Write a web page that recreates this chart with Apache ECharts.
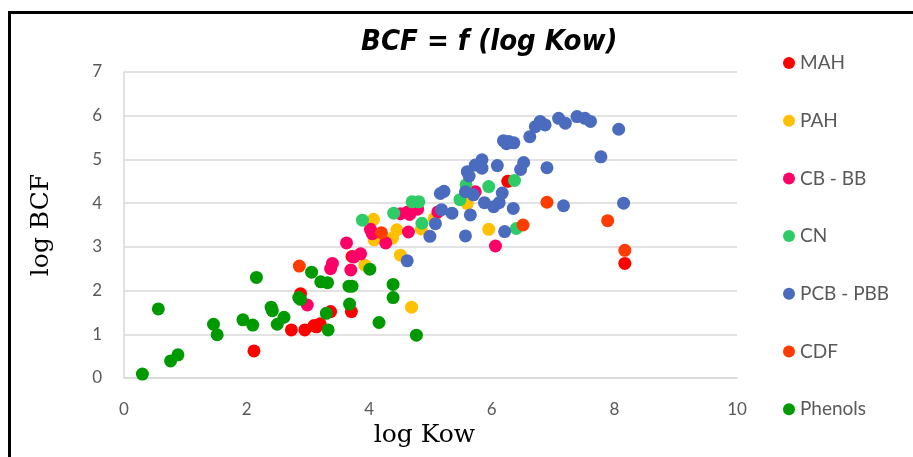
<!DOCTYPE html>
<html>
<head>
<meta charset="utf-8">
<script src="https://cdn.jsdelivr.net/npm/echarts@6/dist/echarts.min.js"></script>
<style>html,body{margin:0;padding:0;background:#fff}#c{width:913px;height:457px}</style>
</head>
<body>
<div id="c"></div>
<script>
const seriesNames = ['MAH', 'PAH', 'CB - BB', 'CN', 'PCB - PBB', 'CDF', 'Phenols'];
const seriesColors = ['#FF0000', '#FFC000', '#FF0066', '#2ECC66', '#4A6BBE', '#FF3C00', '#009A00'];
const xTicks = [0, 2, 4, 6, 8, 10];
const yTicks = [0, 1, 2, 3, 4, 5, 6, 7];

const MAH = [[2.12,0.62],[2.73,1.10],[2.95,1.10],[3.10,1.20],[3.20,1.24],[3.14,1.17],[3.37,1.52],[3.71,1.52],[2.88,1.93],[3.72,2.78],[6.26,4.50],[8.17,2.62]];
const PAH = [[4.07,3.63],[4.45,3.39],[4.38,3.20],[4.08,3.16],[4.51,2.81],[3.93,2.58],[4.69,1.62],[4.85,3.41],[5.06,3.65],[5.60,3.99],[5.95,3.40]];
const CBBB = [[2.99,1.67],[3.40,2.62],[3.37,2.50],[3.70,2.47],[3.63,3.09],[3.86,2.84],[3.75,2.77],[4.02,3.40],[4.05,3.30],[4.27,3.09],[4.64,3.34],[4.51,3.76],[4.63,3.80],[4.66,3.74],[4.79,3.86],[5.12,3.80],[5.73,4.26],[6.06,3.02]];
const CN = [[3.89,3.61],[4.40,3.77],[4.70,4.03],[4.81,4.03],[4.86,3.54],[5.48,4.08],[5.58,4.42],[5.95,4.38],[6.37,4.52],[6.40,3.42]];
const PCBPBB = [[4.62,2.68],[4.99,3.24],[5.08,3.53],[5.18,3.85],[5.16,4.22],[5.22,4.27],[5.35,3.77],[5.57,3.25],[5.65,3.73],[5.57,4.26],[5.70,4.19],[5.60,4.72],[5.63,4.62],[5.73,4.87],[5.84,4.99],[5.84,4.80],[6.09,4.86],[5.88,4.01],[6.03,3.92],[6.12,4.01],[6.17,4.23],[6.35,3.88],[6.21,3.35],[6.47,4.77],[6.52,4.93],[6.90,4.81],[7.17,3.94],[7.78,5.06],[8.15,4.00],[8.07,5.69],[6.19,5.43],[6.28,5.41],[6.36,5.38],[6.24,5.36],[6.62,5.52],[6.71,5.75],[6.79,5.87],[6.87,5.79],[7.09,5.94],[7.20,5.83],[7.39,5.98],[7.52,5.94],[7.61,5.87]];
const CDF = [[2.86,2.56],[4.20,3.32],[6.90,4.02],[6.51,3.50],[7.89,3.60],[8.17,2.92]];
const Phenols = [[0.30,0.09],[0.56,1.58],[0.76,0.39],[0.88,0.53],[1.46,1.23],[1.52,0.99],[1.94,1.33],[2.10,1.21],[2.16,2.30],[2.40,1.62],[2.42,1.54],[2.50,1.23],[2.61,1.39],[2.85,1.84],[2.88,1.80],[3.06,2.42],[3.21,2.20],[3.32,2.18],[3.30,1.48],[3.33,1.10],[3.67,2.10],[3.72,2.10],[3.68,1.69],[4.01,2.49],[4.39,2.14],[4.39,1.84],[4.16,1.27],[4.77,0.98]];

const allData = [MAH, PAH, CBBB, CN, PCBPBB, CDF, Phenols];

const chart = echarts.init(document.getElementById('c'), null, {renderer: 'canvas'});
const labelFont = "Lato, 'Open Sans', sans-serif";
const serifFont = "'DejaVu Serif', 'Liberation Serif', serif";
chart.setOption({
  animation: false,
  backgroundColor: '#fff',
  title: {
    text: 'BCF = f (log Kow)',
    left: 356, top: 23,
    textStyle: {fontFamily: "'Liberation Sans Narrow', 'DejaVu Sans Condensed', sans-serif", fontStyle: 'italic', fontWeight: 'bold', fontSize: 29, color: '#000'}
  },
  graphic: [{
    type: 'rect', shape: {x: 9.5, y: 12.5, width: 920, height: 460},
    style: {fill: 'none', stroke: '#000', lineWidth: 3}, z: 100
  }],
  legend: {
    orient: 'vertical', left: 778, top: 48,
    icon: 'circle', itemWidth: 12, itemHeight: 12, itemGap: 37.7,
    data: seriesNames,
    textStyle: {fontFamily: labelFont, fontSize: 19, color: '#595959', lineHeight: 20}
  },
  grid: {left: 124, top: 72, width: 613, height: 306},
  xAxis: {
    type: 'value', min: xTicks[0], max: xTicks[xTicks.length-1], interval: 2,
    name: 'log Kow', nameLocation: 'middle', nameGap: 40,
    nameTextStyle: {fontFamily: serifFont, fontSize: 25, color: '#000', padding: [0, 12, 0, 0]},
    axisLine: {show: true, lineStyle: {color: '#D9D9D9', width: 1.5}},
    axisTick: {show: false},
    splitLine: {show: false},
    axisLabel: {margin: 23, fontFamily: labelFont, fontSize: 17, color: '#595959'}
  },
  yAxis: {
    type: 'value', min: yTicks[0], max: yTicks[yTicks.length-1], interval: 1,
    name: 'log BCF', nameLocation: 'middle', nameGap: 70,
    nameTextStyle: {fontFamily: serifFont, fontSize: 25, color: '#000'},
    axisLine: {show: true, lineStyle: {color: '#D9D9D9', width: 1.5}},
    axisTick: {show: false},
    splitLine: {show: true, lineStyle: {color: '#D9D9D9', width: 1.5}},
    axisLabel: {margin: 22, fontFamily: labelFont, fontSize: 17, color: '#595959'}
  },
  series: seriesNames.map((n, i) => ({
    name: n, type: 'scatter', data: allData[i], symbol: 'circle', symbolSize: 13,
    itemStyle: {color: seriesColors[i], opacity: 1}
  }))
});
</script>
</body>
</html>
